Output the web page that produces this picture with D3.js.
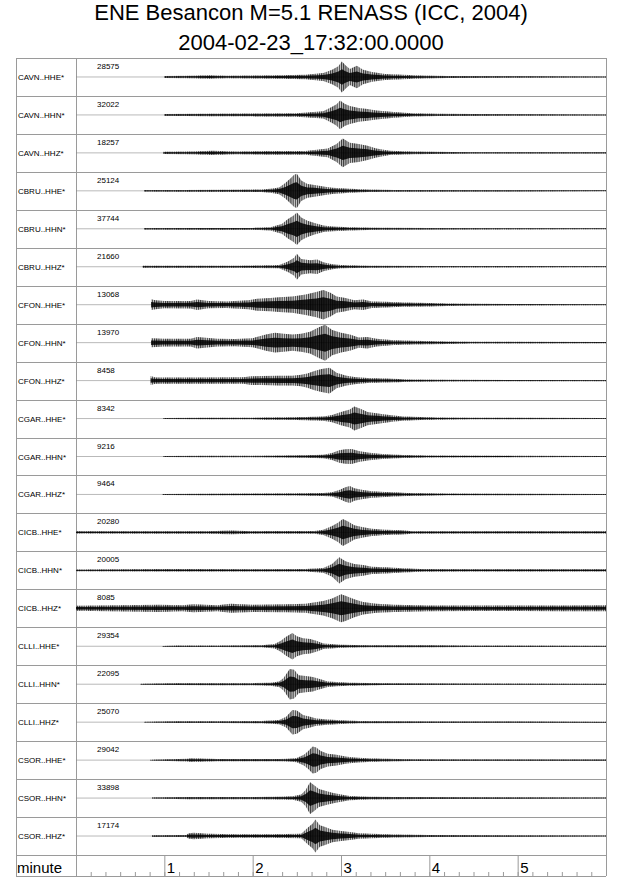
<!DOCTYPE html>
<html>
<head>
<meta charset="utf-8">
<script src="https://cdn.jsdelivr.net/npm/d3@7"></script>
<style>
	body { margin: 0; background: #fff; }
	svg { display: block; }
</style>
</head>
<body>
<div id="chart"></div>
<script>
// Title lines
var titleLines = ['ENE Besancon M=5.1 RENASS (ICC, 2004)', '2004-02-23_17:32:00.0000'];

// Channel names (one row each)
var channels = [
	'CAVN..HHE*', 'CAVN..HHN*', 'CAVN..HHZ*',
	'CBRU..HHE*', 'CBRU..HHN*', 'CBRU..HHZ*',
	'CFON..HHE*', 'CFON..HHN*', 'CFON..HHZ*',
	'CGAR..HHE*', 'CGAR..HHN*', 'CGAR..HHZ*',
	'CICB..HHE*', 'CICB..HHN*', 'CICB..HHZ*',
	'CLLI..HHE*', 'CLLI..HHN*', 'CLLI..HHZ*',
	'CSOR..HHE*', 'CSOR..HHN*', 'CSOR..HHZ*'
];

// Max counts printed above each trace
var peakCounts = [28575, 32022, 18257, 25124, 37744, 21660, 13068, 13970, 8458, 8342, 9216, 9464,
	20280, 20005, 8085, 29354, 22095, 25070, 29042, 33898, 17174];

// Envelopes: [minute, half amplitude as share of half row]
var envelopes = [
	// CAVN
	[[1.0,0.06],[1.3,0.07],[1.5,0.1],[1.7,0.07],[2.0,0.08],[2.3,0.1],[2.6,0.13],[2.8,0.22],[2.9,0.4],[2.97,0.6],[3.01,0.86],[3.05,0.65],[3.1,0.45],[3.18,0.62],[3.25,0.4],[3.35,0.27],[3.5,0.17],[3.7,0.12],[3.9,0.08],[4.2,0.05],[5,0.04],[6,0.03]],
	[[1.0,0.05],[1.5,0.07],[2.0,0.08],[2.5,0.1],[2.8,0.2],[2.9,0.45],[2.95,0.6],[2.99,0.8],[3.04,0.62],[3.1,0.5],[3.2,0.38],[3.3,0.33],[3.4,0.25],[3.6,0.16],[3.8,0.09],[4.1,0.06],[5,0.04],[6,0.03]],
	[[0.99,0.06],[1.3,0.08],[1.55,0.12],[1.8,0.08],[2.2,0.1],[2.6,0.1],[2.85,0.24],[2.95,0.5],[3.02,0.8],[3.1,0.56],[3.2,0.5],[3.3,0.4],[3.4,0.25],[3.55,0.12],[3.8,0.07],[4.5,0.04],[6,0.03]],
	// CBRU
	[[0.77,0.04],[1.2,0.05],[1.8,0.06],[2.1,0.07],[2.2,0.11],[2.3,0.19],[2.37,0.43],[2.43,0.7],[2.47,0.9],[2.5,0.95],[2.55,0.57],[2.62,0.38],[2.7,0.33],[2.8,0.24],[2.9,0.17],[3.1,0.11],[3.3,0.07],[3.6,0.05],[6,0.03]],
	[[0.77,0.04],[1.5,0.05],[2.0,0.05],[2.2,0.09],[2.33,0.27],[2.4,0.54],[2.46,0.72],[2.5,0.9],[2.55,0.63],[2.62,0.45],[2.7,0.32],[2.8,0.18],[2.9,0.13],[3.1,0.09],[3.4,0.06],[4,0.04],[6,0.03]],
	[[0.755,0.05],[1.2,0.06],[1.8,0.05],[2.3,0.09],[2.4,0.29],[2.47,0.5],[2.5,0.72],[2.55,0.43],[2.65,0.36],[2.73,0.4],[2.8,0.25],[2.9,0.14],[3.0,0.09],[3.3,0.06],[4,0.04],[6,0.03]],
	// CFON
	[[0.85,0.3],[0.9,0.25],[1.0,0.2],[1.3,0.21],[1.37,0.29],[1.5,0.2],[1.7,0.18],[1.95,0.25],[2.05,0.33],[2.2,0.37],[2.3,0.41],[2.45,0.45],[2.6,0.57],[2.72,0.7],[2.8,0.82],[2.88,0.66],[2.95,0.45],[3.05,0.37],[3.15,0.25],[3.25,0.29],[3.35,0.18],[3.5,0.16],[3.7,0.12],[4.0,0.1],[4.2,0.07],[4.5,0.05],[5,0.04],[6,0.03]],
	[[0.85,0.25],[1.0,0.22],[1.3,0.22],[1.37,0.32],[1.6,0.22],[1.8,0.2],[2.0,0.25],[2.15,0.45],[2.25,0.55],[2.35,0.5],[2.45,0.45],[2.55,0.5],[2.65,0.6],[2.75,0.85],[2.82,1.0],[2.9,0.7],[3.0,0.55],[3.1,0.45],[3.2,0.28],[3.3,0.32],[3.4,0.22],[3.6,0.13],[3.8,0.1],[4.2,0.07],[4.5,0.05],[6,0.035]],
	[[0.845,0.25],[0.9,0.17],[1.4,0.17],[1.9,0.18],[1.98,0.24],[2.1,0.25],[2.3,0.27],[2.45,0.27],[2.55,0.32],[2.62,0.4],[2.7,0.53],[2.78,0.64],[2.87,0.71],[2.95,0.43],[3.05,0.28],[3.15,0.2],[3.3,0.14],[3.5,0.11],[3.65,0.09],[3.75,0.06],[4.2,0.045],[6,0.03]],
	// CGAR
	[[0.99,0.03],[1.5,0.04],[2.0,0.04],[2.1,0.06],[2.4,0.07],[2.6,0.09],[2.8,0.12],[2.9,0.2],[3.0,0.37],[3.1,0.5],[3.15,0.67],[3.22,0.54],[3.3,0.37],[3.4,0.3],[3.5,0.23],[3.6,0.17],[3.7,0.12],[3.9,0.08],[4.1,0.06],[4.5,0.045],[6,0.03]],
	[[0.99,0.03],[1.5,0.035],[2.0,0.04],[2.3,0.05],[2.6,0.07],[2.8,0.1],[2.9,0.2],[2.98,0.35],[3.05,0.4],[3.12,0.42],[3.2,0.3],[3.3,0.22],[3.4,0.17],[3.5,0.13],[3.7,0.09],[4.0,0.06],[5,0.04],[6,0.03]],
	[[0.98,0.03],[1.5,0.04],[2.0,0.05],[2.5,0.06],[2.8,0.08],[2.9,0.12],[2.98,0.25],[3.05,0.4],[3.1,0.47],[3.15,0.35],[3.25,0.25],[3.35,0.18],[3.5,0.14],[3.6,0.12],[3.75,0.08],[4.2,0.05],[6,0.03]],
	// CICB
	[[0,0.06],[1.0,0.07],[1.5,0.07],[1.75,0.1],[2.0,0.07],[2.2,0.08],[2.7,0.08],[2.8,0.15],[2.9,0.35],[2.97,0.55],[3.02,0.75],[3.08,0.6],[3.15,0.4],[3.25,0.28],[3.35,0.2],[3.5,0.15],[3.7,0.12],[3.8,0.07],[6,0.06]],
	[[0,0.05],[1.0,0.07],[1.3,0.07],[2.0,0.06],[2.6,0.07],[2.8,0.13],[2.9,0.35],[2.98,0.73],[3.05,0.5],[3.15,0.35],[3.25,0.3],[3.35,0.2],[3.5,0.17],[3.7,0.12],[3.9,0.08],[4.5,0.06],[6,0.06]],
	[[0,0.14],[0.95,0.2],[1.2,0.17],[1.33,0.22],[1.6,0.17],[1.75,0.25],[2.0,0.2],[2.4,0.22],[2.6,0.25],[2.8,0.4],[2.9,0.55],[3.0,0.78],[3.05,0.7],[3.15,0.5],[3.25,0.35],[3.4,0.25],[3.6,0.2],[4.0,0.16],[4.5,0.15],[5,0.15],[5.5,0.16],[6,0.17]],
	// CLLI
	[[0.98,0.02],[1.13,0.04],[1.6,0.04],[2.1,0.06],[2.25,0.12],[2.32,0.3],[2.37,0.5],[2.45,0.74],[2.5,0.55],[2.57,0.45],[2.65,0.4],[2.72,0.3],[2.8,0.15],[3.0,0.08],[3.3,0.06],[4.0,0.05],[4.5,0.04],[6,0.03]],
	[[0.73,0.02],[1.13,0.05],[1.6,0.06],[2.0,0.06],[2.2,0.08],[2.3,0.15],[2.35,0.35],[2.42,0.85],[2.47,0.8],[2.52,0.5],[2.6,0.45],[2.68,0.4],[2.75,0.3],[2.85,0.15],[2.95,0.12],[3.1,0.08],[3.5,0.05],[4,0.04],[6,0.03]],
	[[0.77,0.02],[1.13,0.05],[1.6,0.05],[2.1,0.06],[2.3,0.12],[2.38,0.3],[2.45,0.68],[2.5,0.65],[2.57,0.4],[2.65,0.3],[2.72,0.2],[2.85,0.15],[3.0,0.1],[3.2,0.06],[4,0.04],[6,0.03]],
	// CSOR
	[[0.84,0.02],[1.27,0.07],[1.3,0.1],[1.6,0.06],[2.0,0.06],[2.3,0.06],[2.4,0.08],[2.5,0.12],[2.58,0.3],[2.63,0.5],[2.68,0.75],[2.72,0.7],[2.77,0.5],[2.85,0.35],[2.95,0.3],[3.05,0.2],[3.15,0.15],[3.3,0.1],[3.5,0.07],[3.8,0.05],[6,0.03]],
	[[0.86,0.03],[1.27,0.06],[1.6,0.06],[2.0,0.06],[2.3,0.08],[2.45,0.1],[2.55,0.2],[2.6,0.45],[2.65,0.88],[2.7,0.7],[2.75,0.5],[2.82,0.4],[2.9,0.3],[3.0,0.2],[3.1,0.12],[3.3,0.08],[3.6,0.06],[4.0,0.05],[6,0.03]],
	[[0.86,0.04],[1.25,0.06],[1.27,0.14],[1.33,0.18],[1.5,0.12],[1.8,0.1],[2.2,0.1],[2.55,0.12],[2.62,0.45],[2.68,0.7],[2.71,0.92],[2.76,0.6],[2.82,0.5],[2.9,0.35],[3.0,0.28],[3.1,0.22],[3.2,0.15],[3.34,0.12],[3.6,0.08],[4,0.05],[6,0.03]]
];

// Axis ticks (minutes)
var minuteTicks = [1, 2, 3, 4, 5];
var tenSecondTicks = d3.range(1, 36).map(function (k) { return k / 6; });

var attrs = {
	svgWidth: 640,
	svgHeight: 878,
	frameLeft: 16,
	labelRight: 76,
	frameRight: 606,
	rowsTop: 58,
	rowsBottom: 855,
	axisBottom: 876,
	halfRow: 18,
	lineColor: '#9a9a9a',
	font: '"Liberation Sans", Arial, Helvetica, sans-serif'
};

var svg = d3.select('#chart').append('svg')
	.attr('width', attrs.svgWidth)
	.attr('height', attrs.svgHeight)
	.style('font-family', attrs.font);

// wiggle-like texture for the outer part of each envelope
var pattern = svg.append('defs').append('pattern')
	.attr('id', 'wiggle')
	.attr('patternUnits', 'userSpaceOnUse')
	.attr('width', 2.2).attr('height', 40);
pattern.append('rect')
	.attr('width', 1.1).attr('height', 40)
	.attr('fill', '#000');

var x = d3.scaleLinear().domain([0, 6]).range([attrs.labelRight, attrs.frameRight]);
var row = d3.scaleBand().domain(channels).range([attrs.rowsTop, attrs.rowsBottom]);
var amp = d3.scaleLinear().domain([0, 1]).range([0, attrs.halfRow]);

// Title
svg.selectAll('text.title')
	.data(titleLines)
	.enter().append('text')
	.attr('class', 'title')
	.attr('x', (attrs.frameLeft + attrs.frameRight) / 2)
	.attr('y', function (d, i) { return 19.5 + i * 30; })
	.attr('text-anchor', 'middle')
	.attr('font-size', 22)
	.attr('fill', '#000')
	.text(function (d) { return d; });

// Grid / frame
var grid = svg.append('g').attr('stroke', attrs.lineColor).attr('stroke-width', 1).attr('fill', 'none');
var rowEdges = channels.map(function (c) { return row(c); }).concat([attrs.rowsBottom, attrs.axisBottom]);
grid.selectAll('line.h')
	.data(rowEdges)
	.enter().append('line')
	.attr('x1', attrs.frameLeft).attr('x2', attrs.frameRight)
	.attr('y1', function (d) { return Math.round(d) + 0.5; })
	.attr('y2', function (d) { return Math.round(d) + 0.5; });
grid.selectAll('line.v')
	.data([attrs.frameLeft, attrs.labelRight, attrs.frameRight])
	.enter().append('line')
	.attr('x1', function (d) { return d + 0.5; }).attr('x2', function (d) { return d + 0.5; })
	.attr('y1', attrs.rowsTop).attr('y2', attrs.axisBottom);

// Traces
var traces = svg.selectAll('g.trace')
	.data(channels)
	.enter().append('g')
	.attr('class', 'trace')
	.attr('transform', function (d) { return 'translate(0,' + (row(d) + row.bandwidth() / 2) + ')'; });

traces.append('line')
	.attr('x1', attrs.labelRight).attr('x2', attrs.frameRight)
	.attr('y1', 0).attr('y2', 0)
	.attr('stroke', '#8a8a8a').attr('stroke-width', 0.6);

var outer = d3.area()
	.x(function (d) { return x(d[0]); })
	.y0(function (d) { return amp(d[1]); })
	.y1(function (d) { return -amp(d[1]); });

var inner = d3.area()
	.x(function (d) { return x(d[0]); })
	.y0(function (d) { return amp(d[1]) * 0.5; })
	.y1(function (d) { return -amp(d[1]) * 0.5; });

traces.append('path')
	.attr('d', function (d, i) { return outer(envelopes[i]); })
	.attr('fill', '#000').attr('fill-opacity', 0.18);

traces.append('path')
	.attr('d', function (d, i) { return outer(envelopes[i]); })
	.attr('fill', 'url(#wiggle)').attr('fill-opacity', 0.75);

traces.append('path')
	.attr('d', function (d, i) { return inner(envelopes[i]); })
	.attr('fill', '#000').attr('fill-opacity', 0.85);

traces.append('text')
	.attr('x', attrs.frameLeft + 2)
	.attr('y', 3)
	.attr('font-size', 8)
	.text(function (d) { return d; });

traces.append('text')
	.attr('x', 97)
	.attr('y', -8)
	.attr('font-size', 8)
	.text(function (d, i) { return peakCounts[i]; });

// Time axis
svg.append('text')
	.attr('x', attrs.frameLeft + 1)
	.attr('y', 873)
	.attr('font-size', 15)
	.text('minute');

var minorAxis = svg.append('g')
	.attr('transform', 'translate(0,' + attrs.axisBottom + ')')
	.call(d3.axisTop(x).tickValues(tenSecondTicks).tickSize(4).tickFormat(''));

var majorAxis = svg.append('g')
	.attr('transform', 'translate(0,' + attrs.axisBottom + ')')
	.call(d3.axisTop(x).tickValues(minuteTicks).tickSize(attrs.axisBottom - attrs.rowsBottom).tickFormat(d3.format('d')));

[minorAxis, majorAxis].forEach(function (a) {
	a.select('.domain').remove();
	a.selectAll('.tick line').attr('stroke', attrs.lineColor);
});

majorAxis.selectAll('.tick text')
	.attr('x', 2)
	.attr('y', -3)
	.attr('dy', 0)
	.attr('text-anchor', 'start')
	.attr('font-size', 15)
	.attr('font-family', attrs.font)
	.attr('fill', '#000');
</script>
</body>
</html>
